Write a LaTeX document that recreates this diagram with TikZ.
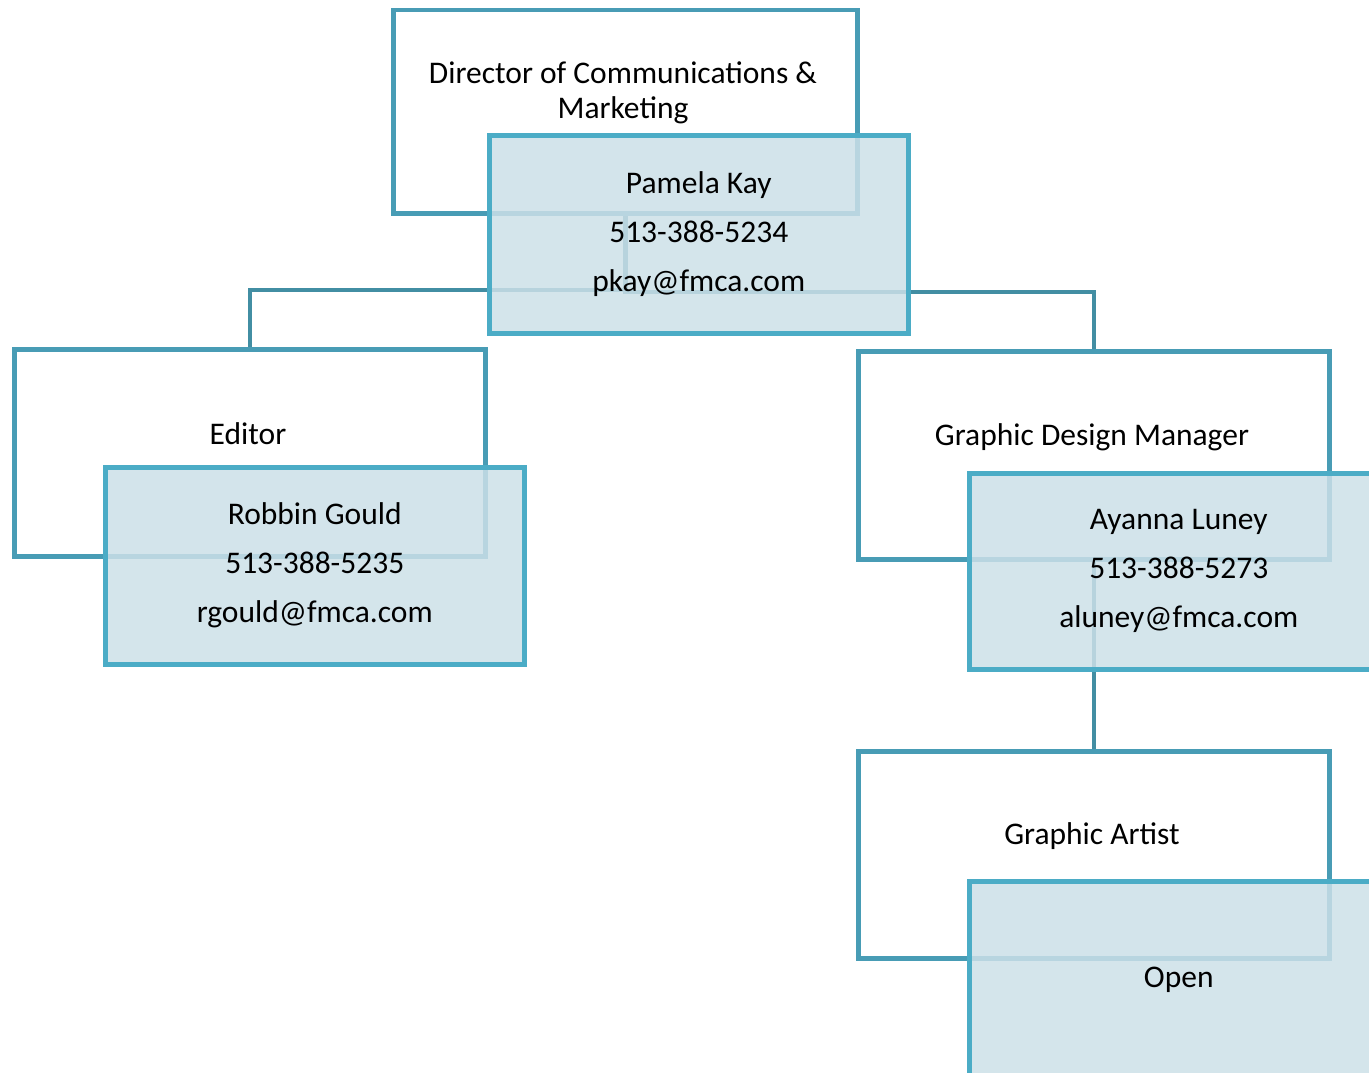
\documentclass[tikz,border=0pt]{standalone}
\usepackage{fontspec}
\setmainfont{Carlito}
\definecolor{rolestroke}{RGB}{72,156,181}
\definecolor{infostroke}{RGB}{75,172,198}
\definecolor{infofill}{RGB}{204,224,232}
\definecolor{linkcol}{RGB}{66,142,163}
\begin{document}
\begin{tikzpicture}[x=1pt,y=-1pt,
  rolebox/.style={draw=rolestroke,line width=4.5pt,fill=white,minimum width=471pt,minimum height=207pt,anchor=north west,inner sep=0pt},
  infobox/.style={draw=infostroke,line width=4.5pt,fill=infofill,fill opacity=0.85,text opacity=1,minimum width=419pt,minimum height=197pt,anchor=north west,inner sep=0pt,align=center,font=\fontsize{31.5}{49}\selectfont},
  roletext/.style={align=center,font=\fontsize{31.5}{35}\selectfont,inner sep=0pt},
  link/.style={draw=linkcol,line width=4.5pt}]
\useasboundingbox (0,0) rectangle (1369,1073);
\clip (0,0) rectangle (1369,1073);
% role boxes
\node[rolebox,minimum width=464pt,minimum height=203pt] (dir) at (391,8) {};
\node[rolebox] (ed) at (12,347) {};
\node[rolebox,minimum height=208pt] (gdm) at (856,349) {};
\node[rolebox] (ga) at (856,749) {};
% role texts
\node[roletext] (dirT) at (623,93) {Director of Communications \&\\Marketing};
\node[roletext] (edT) at (248,434) {Editor};
\node[roletext] (gdmT) at (1092,437) {Graphic Design Manager};
\node[roletext] (gaT) at (1092,836) {Graphic Artist};
% connectors
\coordinate (j) at (dir.south |- 0,290);
\draw[link] (dir.south) -- (j) -| (ed.north);
\draw[link] (j) |- (gdm.north |- 0,292) -- (gdm.north);
\draw[link] (gdm.south) -- (ga.north);
% info boxes
\node[infobox,minimum height=198pt] (pk) at (487,133) {Pamela Kay\\513-388-5234\\pkay@fmca.com};
\node[infobox] (rg) at (103,465) {Robbin Gould\\513-388-5235\\rgould@fmca.com};
\node[infobox,minimum height=196pt] (al) at (967,471) {Ayanna Luney\\513-388-5273\\aluney@fmca.com};
\node[infobox] (op) at (967,879) {Open};
\end{tikzpicture}
\end{document}
